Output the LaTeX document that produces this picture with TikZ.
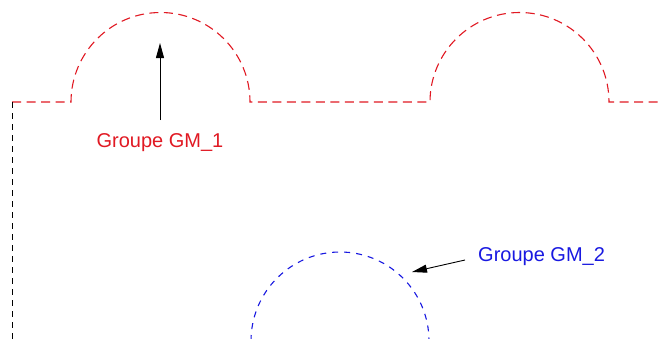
\documentclass[tikz,border=0pt]{standalone}
\usepackage{fontspec}
\setmainfont{Liberation Sans}
\usetikzlibrary{arrows.meta}
\definecolor{gmred}{RGB}{225,25,35}
\definecolor{gmblue}{RGB}{25,25,225}
\tikzset{
  redline/.style={gmred, line width=1.1pt, dash pattern=on 9pt off 5.5pt},
  blueline/.style={gmblue, line width=1.1pt, dash pattern=on 6pt off 6pt},
  blackline/.style={black, line width=0.9pt, dash pattern=on 6pt off 5pt},
  lbl/.style={font=\fontsize{20}{22}\selectfont, inner sep=1pt},
  pointer/.style={black, line width=0.9pt, -{Triangle[length=15pt,width=8pt]}}
}
\begin{document}
\begin{tikzpicture}[x=1pt,y=-1pt]
\useasboundingbox (0,0) rectangle (660,338);
\fill[white] (0,0) rectangle (660,338);
% red contour
\draw[redline] (12,102) -- (71,102) arc[start angle=180, end angle=0, x radius=89.5, y radius=-89.5]
  -- (430,102) arc[start angle=180, end angle=0, x radius=89.5, y radius=-89.5] -- (662,102);
% black vertical
\draw[blackline] (12,102) -- (12,340);
% blue circle
\begin{scope}
\clip (0,0) rectangle (660,338);
\draw[blueline] (251,341) arc[start angle=180, end angle=0, x radius=89, y radius=-89];
\end{scope}
% labels
\node[lbl, text=gmred] (gm1) at (160,143) {Groupe GM\_1};
\node[lbl, text=gmblue, anchor=west] (gm2) at (477,257) {Groupe GM\_2};
\coordinate (t1) at (160,43);
\coordinate (s1) at (160,120);
\coordinate (t2) at (412,272);
\coordinate (s2) at (465,260);
\draw[pointer] (s1) -- (t1);
\draw[pointer] (s2) -- (t2);
\end{tikzpicture}
\end{document}
